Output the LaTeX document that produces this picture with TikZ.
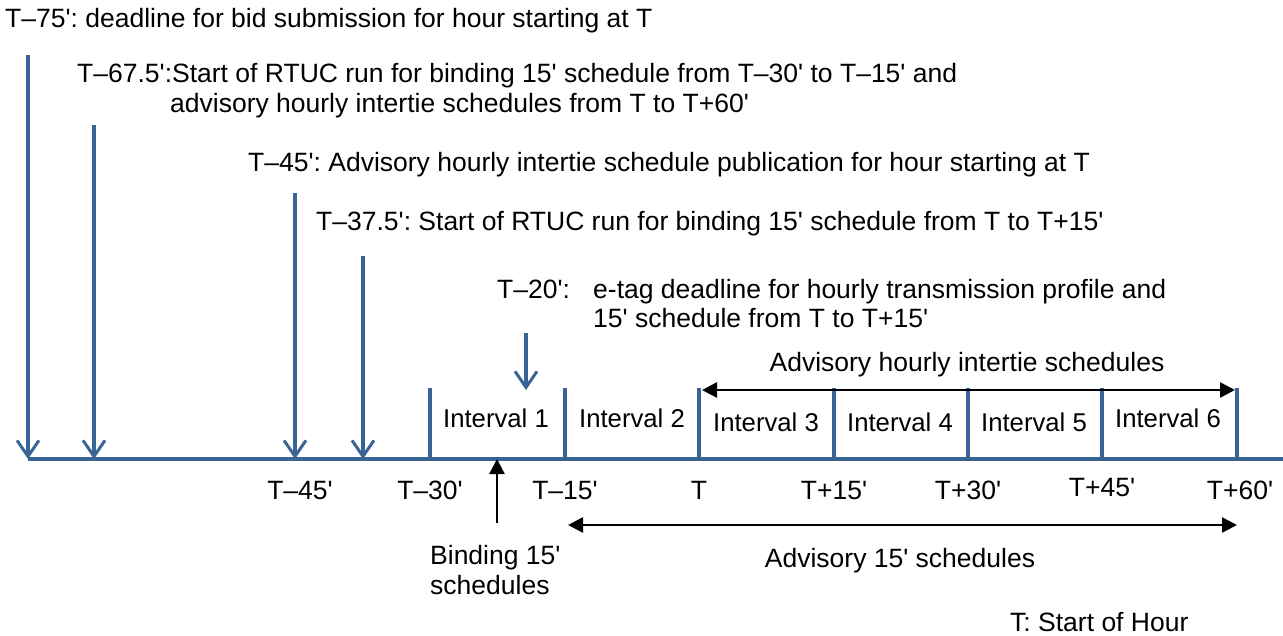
\documentclass[tikz,border=0pt]{standalone}
\usepackage{fontspec}
\setmainfont{Liberation Sans}[Ligatures=TeXOff]
\usetikzlibrary{arrows.meta}
\definecolor{axisblue}{RGB}{58,99,150}
\frenchspacing
\begin{document}
\begin{tikzpicture}[x=1pt,y=-1pt,
  txt/.style={inner sep=0pt, font=\fontsize{26.5}{30}\selectfont},
  lbl/.style={txt, anchor=base west},
  mid/.style={txt, anchor=base},
  cell/.style={mid, font=\fontsize{25.7}{30}\selectfont},
  axis/.style={draw=axisblue, line width=4pt},
  marker/.style={draw=axisblue, line width=4pt, -{Straight Barb[length=16pt, width=22pt, line width=3pt]}},
  tick/.style={draw=axisblue, line width=4pt},
  span/.style={draw=black, line width=2.5pt, {Triangle[length=15pt, width=15pt]}-{Triangle[length=15pt, width=15pt]}},
  pointer/.style={draw=black, line width=2.5pt, -{Triangle[length=15pt, width=15pt]}}
]
\useasboundingbox (0,0) rectangle (1283,635);

% time axis
\coordinate (axL) at (28,459);
\coordinate (axR) at (1283,459);
\draw[axis] (axL) -- (axR);

% event markers dropping onto the axis
\coordinate (m75top) at (28,55);    \coordinate (m75) at (28,459);
\coordinate (m67top) at (94,125);   \coordinate (m67) at (94,459);
\coordinate (m45top) at (295,193);  \coordinate (m45) at (295,459);
\coordinate (m37top) at (363,256);  \coordinate (m37) at (363,459);
\coordinate (m20top) at (526,333);  \coordinate (m20) at (526,390);
\draw[marker] (m75top) -- (m75);
\draw[marker] (m67top) -- (m67);
\draw[marker] (m45top) -- (m45);
\draw[marker] (m37top) -- (m37);
\draw[marker] (m20top) -- (m20);

% interval boundaries
\foreach \n/\x in {0/430,1/565,2/699,3/834,4/968,5/1102,6/1237}{
  \coordinate (t\n top) at (\x,388);
  \coordinate (t\n) at (\x,459);
  \draw[tick] (t\n top) -- (t\n);
}

% interval names
\node[cell] (i1) at (496,427) {Interval 1};
\node[cell] (i2) at (632,427) {Interval 2};
\node[cell] (i3) at (766,431) {Interval 3};
\node[cell] (i4) at (900,431) {Interval 4};
\node[cell] (i5) at (1034,431) {Interval 5};
\node[cell] (i6) at (1168,427) {Interval 6};

% axis labels
\node[mid] (l45) at (300,499) {T–45'};
\node[mid] (l30) at (430,499) {T–30'};
\node[mid] (l15) at (565,499) {T–15'};
\node[mid] (l0) at (699,499) {T};
\node[mid] (p15) at (834,499) {T+15'};
\node[mid] (p30) at (968,499) {T+30'};
\node[mid] (p45) at (1102,496) {T+45'};
\node[mid] (p60) at (1240,499) {T+60'};

% event descriptions
\node[lbl] (e75) at (5,27) {T–75': deadline for bid submission for hour starting at T};
\node[lbl] (e67) at (77,82) {T–67.5':Start of RTUC run for binding 15' schedule from T–30' to T–15' and};
\node[lbl] (e67b) at (170,112) {advisory hourly intertie schedules from T to T+60'};
\node[lbl] (e45) at (248,171) {T–45': Advisory hourly intertie schedule publication for hour starting at T};
\node[lbl] (e37) at (316,230) {T–37.5': Start of RTUC run for binding 15' schedule from T to T+15'};
\node[lbl] (e20) at (497,298) {T–20':};
\node[lbl] (e20a) at (593,298) {e-tag deadline for hourly transmission profile and};
\node[lbl] (e20b) at (593,327) {15' schedule from T to T+15'};

% schedule spans
\coordinate (hA) at (702,390); \coordinate (hB) at (1235,390);
\draw[span] (hA) -- (hB);
\node[mid] (hlbl) at (967,371) {Advisory hourly intertie schedules};

\coordinate (qA) at (568,525); \coordinate (qB) at (1237,525);
\draw[span] (qA) -- (qB);
\node[mid] (qlbl) at (900,567) {Advisory 15' schedules};

% binding pointer
\coordinate (bFrom) at (497,523); \coordinate (bTo) at (497,459);
\draw[pointer] (bFrom) -- (bTo);
\node[lbl] (b1) at (430,564) {Binding 15'};
\node[lbl] (b2) at (430,594) {schedules};

\node[lbl] (key) at (1010,631) {T: Start of Hour};
\end{tikzpicture}
\end{document}
